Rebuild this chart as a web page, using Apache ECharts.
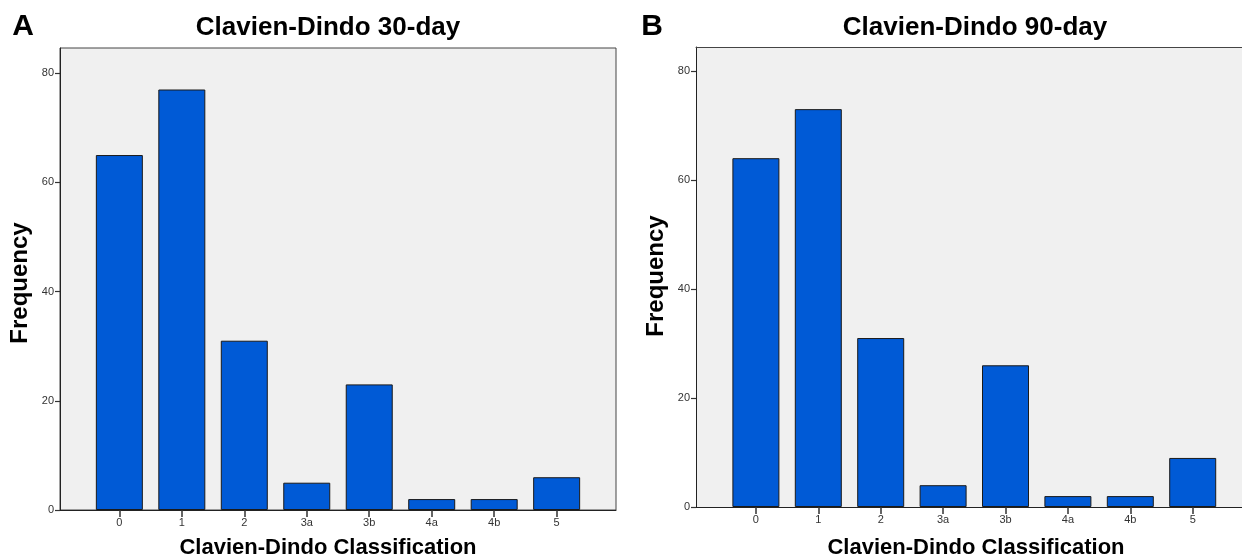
<!DOCTYPE html>
<html>
<head>
<meta charset="utf-8">
<script src="https://cdn.jsdelivr.net/npm/echarts@6/dist/echarts.min.js"></script>
<style>
html,body{margin:0;padding:0;background:#fff;}
#c{width:1242px;height:559px;}
</style>
</head>
<body>
<div id="c"></div>
<script>
const categories = ['0', '1', '2', '3a', '3b', '4a', '4b', '5'];
const freq30 = [65, 77, 31, 5, 23, 2, 2, 6];
const freq90 = [64, 73, 31, 4, 26, 2, 2, 9];
const yTicks = [0, 20, 40, 60, 80];
const titles = ['Clavien-Dindo 30-day', 'Clavien-Dindo 90-day'];
const panelLetters = ['A', 'B'];
const xName = 'Clavien-Dindo Classification';
const yName = 'Frequency';

const FONT = '"Liberation Sans", Arial, sans-serif';
const catIdx = categories.map((c, i) => i);

function xAxisCfg(gi, min, max) {
  return {
    type: 'value', gridIndex: gi, min: min, max: max, position: 'bottom',
    axisLine: { show: true, onZero: false, lineStyle: { color: '#222', width: 1 } },
    axisTick: { show: true, inside: false, length: 7, customValues: catIdx, lineStyle: { color: '#333', width: 1.5 } },
    axisLabel: { show: true, customValues: catIdx, formatter: v => categories[Math.round(v)] || '',
      color: '#333', fontSize: 11, fontFamily: FONT, margin: 7 },
    splitLine: { show: false }
  };
}
function topAxisCfg(gi, min, max) {
  return {
    type: 'value', gridIndex: gi, min: min, max: max, position: 'top',
    axisLine: { show: true, onZero: false, lineStyle: { color: '#444', width: 1 } },
    axisTick: { show: false }, axisLabel: { show: false }, splitLine: { show: false }
  };
}
function yAxisCfg(gi, max) {
  return {
    type: 'value', gridIndex: gi, min: 0, max: max,
    axisLine: { show: true, onZero: false, lineStyle: { color: '#222', width: 1 } },
    axisTick: { show: true, length: 5, customValues: yTicks, lineStyle: { color: '#333', width: 1.2 } },
    axisLabel: { show: true, customValues: yTicks, color: '#333', fontSize: 11, fontFamily: FONT, margin: 6 },
    splitLine: { show: false }
  };
}
function barSeries(gi, vals) {
  return {
    type: 'bar', xAxisIndex: gi, yAxisIndex: gi,
    data: vals.map((v, i) => [i, v]),
    barWidth: 47,
    itemStyle: { color: '#005ad6', borderColor: '#1a1a1a', borderWidth: 1 },
    emphasis: { disabled: true },
    animation: false
  };
}
function txt(x, y, text, size, rot) {
  return { type: 'text', x: x, y: y, rotation: rot || 0,
    style: { text: text, font: 'bold ' + size + 'px ' + FONT, fill: '#000',
      textAlign: 'center', textVerticalAlign: 'middle' } };
}

const chart = echarts.init(document.getElementById('c'), null, { renderer: 'canvas' });
chart.setOption({
  animation: false,
  backgroundColor: '#fff',
  grid: [
    { left: 60, top: 48, width: 556, height: 462, show: true, backgroundColor: '#f0f0f0', borderColor: '#444', borderWidth: 1, containLabel: false },
    { left: 696, top: 47, right: 0, height: 460, show: true, backgroundColor: '#f0f0f0', borderColor: 'transparent', borderWidth: 0, containLabel: false }
  ],
  xAxis: [xAxisCfg(0, -0.95, 7.95), xAxisCfg(1, -0.96, 7.79), topAxisCfg(1, -0.96, 7.79)],
  yAxis: [yAxisCfg(0, 84.6), yAxisCfg(1, 84.4)],
  series: [barSeries(0, freq30), barSeries(1, freq90)],
  graphic: [
    txt(23, 27, panelLetters[0], 30),
    txt(652, 27, panelLetters[1], 30),
    txt(328, 28, titles[0], 26),
    txt(975, 28, titles[1], 26),
    txt(20, 283, yName, 24, Math.PI / 2),
    txt(656, 276, yName, 24, Math.PI / 2),
    txt(328, 548, xName, 22),
    txt(976, 548, xName, 22)
  ]
});
</script>
</body>
</html>
